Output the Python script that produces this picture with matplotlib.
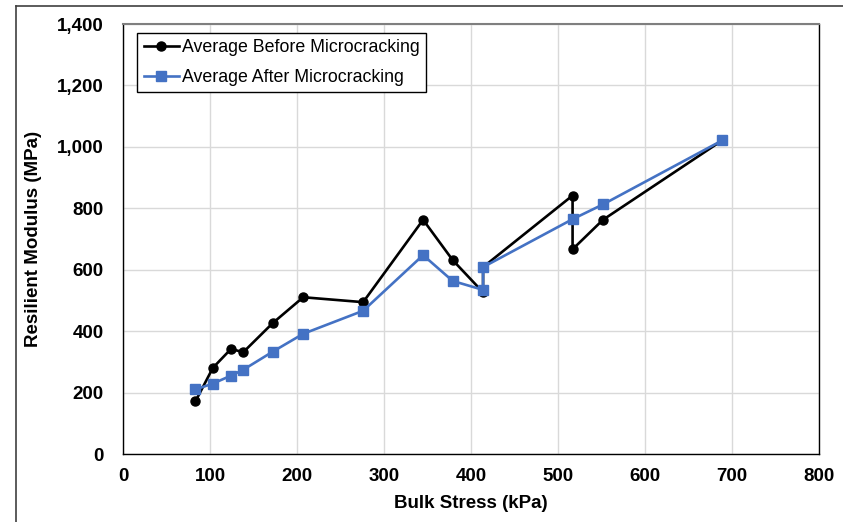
import numpy as np
import matplotlib.pyplot as plt
from matplotlib.lines import Line2D
from matplotlib.ticker import FuncFormatter

plt.rcParams['font.family'] = ['Liberation Sans', 'DejaVu Sans']

# bulk stress (kPa) and resilient modulus (MPa)
stress_before = [83, 103, 124, 138, 172, 207, 276, 345, 379, 414, 414, 517, 517, 552, 689]
mr_before = [172, 281, 343, 332, 427, 511, 495, 763, 632, 527, 609, 842, 667, 763, 1021]

stress_after = [83, 103, 124, 138, 172, 207, 276, 345, 379, 414, 414, 517, 552, 689]
mr_after = [211, 230, 256, 275, 334, 392, 467, 648, 564, 535, 609, 765, 813, 1021]

W, H = 843, 522
fig = plt.figure(figsize=(W / 100, H / 100), dpi=100)
ax = fig.add_axes([123.3 / W, 1 - 454.3 / H, (818.5 - 123.3) / W, (454.3 - 24) / H])

ax.plot(stress_before, mr_before, color='black', lw=1.9, marker='o', ms=6.5,
        label='Average Before Microcracking', zorder=3)
ax.plot(stress_after, mr_after, color='#4472C4', lw=1.9, marker='s', ms=6.5,
        label='Average After Microcracking', zorder=4)

ax.set_xlim(0, 800)
ax.set_ylim(0, 1400)
ax.set_xticks(np.arange(0, 801, 100))
ax.set_yticks(np.arange(0, 1401, 200))
ax.yaxis.set_major_formatter(FuncFormatter(lambda v, p: f'{int(v):,}'))
ax.grid(True, color='#d9d9d9', lw=1)
ax.set_axisbelow(True)
ax.tick_params(length=0, labelsize=13.5)
ax.tick_params(axis='x', pad=10)
ax.tick_params(axis='y', pad=14)
for lab in ax.get_xticklabels() + ax.get_yticklabels():
    lab.set_fontweight('bold')

for s in ['left', 'bottom', 'right']:
    ax.spines[s].set_color('black')
    ax.spines[s].set_linewidth(1)
ax.spines['top'].set_color('#7f7f7f')
ax.spines['top'].set_linewidth(1.5)

ax.set_xlabel('Bulk Stress (kPa)', fontsize=13.5, fontweight='bold', labelpad=7)
ax.set_ylabel('Resilient Modulus (MPa)', fontsize=13.5, fontweight='bold', labelpad=11)

leg = ax.legend(loc='upper left', bbox_to_anchor=(14 / 695, 1 - 9 / 430),
                fontsize=12.8, frameon=True, fancybox=False, framealpha=1,
                edgecolor='black', handlelength=2.0, borderpad=0.35,
                labelspacing=0.72, handletextpad=0.15, borderaxespad=0)
leg.get_frame().set_linewidth(1)

# outer chart frame (cropped on right and bottom)
x0, y0 = 15.7 / W, 1 - 5.7 / H
fig.add_artist(Line2D([x0, x0], [0, y0], color='#404040', lw=1.2))
fig.add_artist(Line2D([x0, 1], [y0, y0], color='#404040', lw=1.2))

fig.savefig('out.png', dpi=100)
